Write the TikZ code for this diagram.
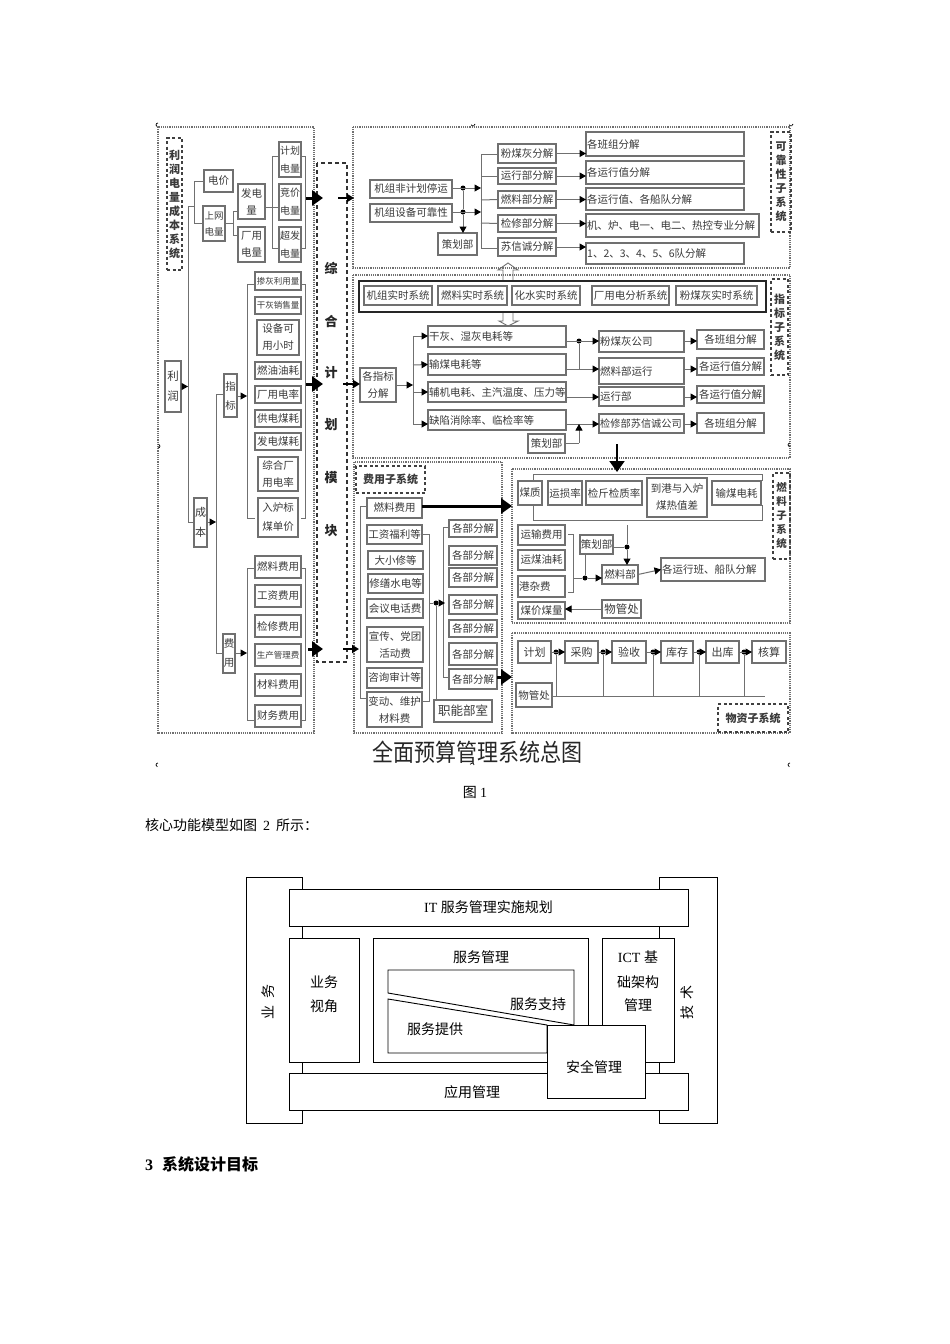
\documentclass[tikz,border=0pt]{standalone}
\usepackage{fontspec}
\setmainfont{Noto Sans CJK SC}
\newfontfamily\lat{Liberation Serif}
\usetikzlibrary{arrows.meta}
\definecolor{ln}{HTML}{707070}
\definecolor{tx}{HTML}{3a3a3a}
\newcommand\fz[2]{\fontsize{#1}{#2}\selectfont}
\tikzset{
 bxs/.style={draw=ln,line width=1.1pt,inner sep=0pt,outer sep=0pt,fill=white,text=tx,align=center,font=\fz{10.5}{17}},
 ltx/.style={text=tx,inner sep=1pt,anchor=west,font=\fz{10.5}{14}},
 lnn/.style={draw=ln,line width=1pt},
 sarr/.style={draw=ln,line width=1pt,-{Triangle[length=6.5pt,width=7pt,color=black]}},
 barr/.style={draw=black,line width=3pt,-{Triangle[length=11pt,width=15pt]}},
 marr/.style={draw=black,line width=1.8pt,-{Triangle[length=7pt,width=8pt]}},
 frame/.style={draw=ln,line width=1.2pt,densely dotted},
 dbox/.style={draw=black!75,line width=1.1pt,dash pattern=on 3pt off 2.5pt,inner sep=0pt,outer sep=0pt,align=center,text=tx,font=\fz{11}{14}\bfseries},
 dot/.style={circle,fill=black,inner sep=0pt,minimum size=5pt},
 bw/.style={draw=black,line width=.9pt,fill=white,inner sep=0pt,outer sep=0pt,align=center,text=black,font=\fz{14}{24}},
 free/.style={inner sep=0pt,text=black,font=\fz{14}{24}},
 mod/.style={inner sep=0pt,text=black!85,font=\fz{13}{18}\bfseries},
}
\newcommand\bx[7][]{\node[bxs,#1,minimum width={#5-#3},minimum height={#6-#4}] (#2) at ({(#3+#5)/2},{(#4+#6)/2}) {#7};}
\newcommand\bxl[7][]{\node[bxs,minimum width={#5-#3},minimum height={#6-#4}] (#2) at ({(#3+#5)/2},{(#4+#6)/2}) {};\node[ltx,#1] (#2t) at (#2.west) {#7};}
\newcommand\dbx[7][]{\node[dbox,#1,minimum width={#5-#3},minimum height={#6-#4}] (#2) at ({(#3+#5)/2},{(#4+#6)/2}) {#7};}
\newcommand\brk[5]{\coordinate (#1a) at (#2,#4);\coordinate (#1b) at (#3,#4);\coordinate (#1c) at (#3,#5);\coordinate (#1d) at (#2,#5);\draw[lnn] (#1a)--(#1b)--(#1c)--(#1d);}
\begin{document}
\begin{tikzpicture}[x=1pt,y=-1pt]
\useasboundingbox (0,0) rectangle (950,1344);
\fill[white] (0,0) rectangle (950,1344);
% ---------- frames
\draw[frame] (158,127) rectangle (314,733);
\draw[frame] (353,127) rectangle (790,268);
\draw[frame] (353,275) rectangle (790,458);
\draw[frame] (354,462) rectangle (502,733);
\draw[frame] (512,469) rectangle (790,623);
\draw[frame] (512,633) rectangle (790,733);
\draw[draw=black!80,line width=1.1pt,dash pattern=on 4pt off 3pt] (317,163) rectangle (347,662);
% handles
\foreach \hx/\hy/\ha in {158/125/90,473/124/200,791/124/200,158/446/-90,790/445/90,158/765/90,472/765/0,790/765/90}
 \draw[black,line width=.7pt] (\hx,\hy) ++(\ha:2pt) arc[start angle=\ha,delta angle=160,radius=2pt];
% ---------- left block
\dbx[font=\fz{11}{14}\bfseries]{tL}{167}{138}{182}{270}{利\\润\\电\\量\\成\\本\\系\\统}
\bx{dianjia}{204}{170}{233}{192}{电价}
\bx[font=\fz{9.5}{16}]{shangwang}{203}{206}{225}{241}{上网\\电量}
\bx{fadian}{238}{184}{265}{219}{发电\\量}
\bx{changyong}{238}{227}{265}{262}{厂用\\电量}
\bx[font=\fz{10}{18}]{jihua}{279}{142}{301}{177}{计划\\电量}
\bx[font=\fz{10}{18}]{jingjia}{279}{184}{301}{220}{竞价\\电量}
\bx[font=\fz{10}{18}]{chaofa}{279}{227}{301}{262}{超发\\电量}
\bx[font=\fz{11.5}{20}]{lirun}{165}{361}{181}{412}{利\\润}
\bx[font=\fz{11}{20}]{chengben}{194}{498}{207}{547}{成\\本}
\bx[font=\fz{10.5}{19}]{zhibiao}{224}{374}{237}{417}{指\\标}
\bx[font=\fz{10.5}{19}]{feiyong}{223}{634}{235}{673}{费\\用}
\bx[font=\fz{8.5}{11}]{a1}{255}{272}{301}{290}{掺灰利用量}
\bx[font=\fz{8.5}{11}]{a2}{255}{297}{301}{314}{干灰销售量}
\bx{a3}{257}{320}{299}{355}{设备可\\用小时}
\bx{a4}{255}{362}{301}{379}{燃油油耗}
\bx{a5}{255}{386}{301}{403}{厂用电率}
\bx{a6}{255}{410}{301}{427}{供电煤耗}
\bx{a7}{255}{433}{301}{450}{发电煤耗}
\bx{a8}{258}{457}{298}{491}{综合厂\\用电率}
\bx[font=\fz{10.5}{19}]{a9}{258}{498}{298}{537}{入炉标\\煤单价}
\bx{b1}{255}{556}{301}{578}{燃料费用}
\bx{b2}{255}{585}{301}{607}{工资费用}
\bx{b3}{255}{615}{301}{637}{检修费用}
\bx[font=\fz{8.5}{11}]{b4}{255}{644}{301}{666}{生产管理费}
\bx{b5}{255}{674}{301}{696}{材料费用}
\bx{b6}{255}{705}{301}{727}{财务费用}
% left connectors
\coordinate (mA) at (188,206);\coordinate (mB) at (188,522);\coordinate (mC) at (194,206);
\coordinate (nA) at (194,181);\coordinate (nB) at (194,223);
\draw[lnn] (chengben.west|-mB)--(mB)--(mA)--(mC);
\draw[lnn] (dianjia.west|-nA)--(nA)--(nB)--(shangwang.west|-nB);
\coordinate (oA) at (233,211);\coordinate (oB) at (233,235);
\draw[lnn] (shangwang.east|-nB)--(oA|-nB);
\draw[lnn] (fadian.west|-oA)--(oA)--(oB)--(changyong.west|-oB);
\brk{p}{279}{272}{156}{248}
\brk{q}{301}{305}{156}{248}
\coordinate (pM) at (272,207);
\draw[lnn] (fadian.east|-pM)--(pM);
\draw[lnn] (pM)--(jingjia.west|-pM);
\coordinate (mD) at (216,394);\coordinate (mE) at (216,653);
\draw[lnn] (zhibiao.west|-mD)--(mD)--(mE)--(feiyong.west|-mE);
\draw[sarr] (lirun.east)--(mA|-lirun.east);
\draw[sarr] (chengben.east|-mB)--(mE|-mB);
\coordinate (rA) at (247,396);\coordinate (rB) at (247,653);
\draw[sarr] (zhibiao.east|-rA)--(rA);
\draw[sarr] (feiyong.east|-rB)--(rB);
\brk{r}{255}{247}{284}{518}
\brk{s}{301}{305}{284}{518}
\brk{t}{255}{247}{568}{720}
\brk{u}{301}{305}{568}{720}
% module
\node[mod] (m1) at (331,268) {综};
\node[mod] (m2) at (331,322) {合};
\node[mod] (m3) at (331,373) {计};
\node[mod] (m4) at (331,425) {划};
\node[mod] (m5) at (331,478) {模};
\node[mod] (m6) at (331,531) {块};
\coordinate (c1) at (306,198);\coordinate (c2) at (323,198);\coordinate (c3) at (338,198);\coordinate (c4) at (354,198);
\coordinate (c5) at (306,384);\coordinate (c6) at (323,384);\coordinate (c7) at (343,384);
\coordinate (c9) at (308,649);\coordinate (c10) at (323,649);\coordinate (c11) at (343,649);\coordinate (c12) at (359,649);
\draw[barr] (c1)--(c2);\draw[marr] (c3)--(c4);
\draw[barr] (c5)--(c6);
\draw[barr] (c9)--(c10);\draw[marr] (c11)--(c12);
% ---------- reliability
\bx{k1}{370}{180}{452}{198}{机组非计划停运}
\bx{k2}{370}{204}{452}{222}{机组设备可靠性}
\bx{k3}{438}{233}{477}{255}{策划部}
\bx{e1}{498}{144}{556}{163}{粉煤灰分解}
\bx{e2}{498}{168}{556}{184}{运行部分解}
\bx{e3}{498}{191}{556}{208}{燃料部分解}
\bx{e4}{498}{215}{556}{232}{检修部分解}
\bx{e5}{498}{238}{556}{256}{苏信诚分解}
\bxl{f1}{586}{132}{744}{156}{各班组分解}
\bxl{f2}{586}{161}{744}{184}{各运行值分解}
\bxl{f3}{586}{188}{744}{210}{各运行值、各船队分解}
\bxl{f4}{586}{214}{759}{237}{机、炉、电一、电二、热控专业分解}
\bxl{f5}{586}{243}{744}{264}{1、2、3、4、5、6队分解}
\dbx{tR}{771}{132}{791}{232}{可\\靠\\性\\子\\系\\统}
\coordinate (vT) at (481,154);\coordinate (vB) at (481,248);
\coordinate (v2) at (481,176);\coordinate (v3) at (481,200);\coordinate (v4) at (481,223);
\draw[lnn] (e1.west|-vT)--(vT)--(vB)--(e5.west|-vB);
\draw[lnn] (v2)--(e2.west);\draw[lnn] (v3)--(e3.west);\draw[lnn] (v4)--(e4.west);
\node[dot] (j1) at (463,188) {};\node[dot] (j2) at (463,212) {};
\coordinate (v5) at (481,188);\coordinate (v6) at (481,212);
\draw[lnn] (j1)--(j2);
\draw[sarr] (k1.east|-j1)--(v5);
\draw[sarr] (k2.east|-j2)--(v6);
\draw[sarr] (j2)--(k3.north-|j2);
\draw[sarr] (e1.east)--(f1.west|-e1.east);
\draw[sarr] (e2.east)--(f2.west|-e2.east);
\draw[sarr] (e3.east)--(f3.west|-e3.east);
\draw[sarr] (e4.east)--(f4.west|-e4.east);
\draw[sarr] (e5.east)--(f5.west|-e5.east);
% hollow double arrow
\draw[lnn,line width=.9pt] (503,281)--(503,270)--(498,270)--(508,263)--(518,270)--(513,270)--(513,281);
\draw[lnn,line width=.9pt] (503,312)--(503,321)--(499,321)--(508,326)--(518,321)--(513,321)--(513,312);
% ---------- indicators
\node[draw=black!85,line width=2.6pt,minimum width=407pt,minimum height=31pt,inner sep=0pt] (thick) at (562.5,296.5) {};
\bx{g1}{364}{286}{432}{305}{机组实时系统}
\bx{g2}{438}{286}{507}{305}{燃料实时系统}
\bx{g3}{512}{286}{580}{305}{化水实时系统}
\bx{g4}{592}{286}{669}{305}{厂用电分析系统}
\bx{g5}{676}{286}{757}{305}{粉煤灰实时系统}
\dbx{tI}{771}{279}{788}{375}{指\\标\\子\\系\\统}
\bx{h0}{360}{368}{396}{402}{各指标\\分解}
\bxl{h1}{428}{326}{566}{347}{干灰、湿灰电耗等}
\bxl{h2}{428}{354}{566}{375}{输煤电耗等}
\bxl{h3}{428}{382}{566}{402}{辅机电耗、主汽温度、压力等}
\bxl{h4}{428}{410}{566}{430}{缺陷消除率、临检率等}
\bx{h5}{528}{434}{565}{453}{策划部}
\bxl{i1}{599}{331}{684}{352}{粉煤灰公司}
\bxl{i2}{599}{358}{684}{384}{燃料部运行}
\bxl{i3}{599}{387}{684}{406}{运行部}
\bxl[font=\fz{10.2}{13}]{i4}{599}{414}{684}{433}{检修部苏信诚公司}
\bx{l1}{697}{330}{764}{349}{各班组分解}
\bx{l2}{697}{358}{764}{375}{各运行值分解}
\bx{l3}{697}{386}{764}{403}{各运行值分解}
\bx{l4}{697}{413}{764}{433}{各班组分解}
\coordinate (wT) at (413,336);\coordinate (wB) at (413,424);\coordinate (wM) at (413,385);
\coordinate (w2) at (413,365);\coordinate (w3) at (413,392);
\draw[lnn] (wT)--(wB);
\draw[sarr] (h0.east|-wM)--(wM);
\draw[sarr] (wT)--(h1.west|-wT);
\draw[sarr] (w2)--(h2.west);
\draw[sarr] (w3)--(h3.west);
\draw[sarr] (wB)--(h4.west|-wB);
\node[dot] (j3) at (579,341) {};
\coordinate (j4) at (579,369);\coordinate (j5) at (579,424);\coordinate (j7b) at (579,397);
\draw[lnn] (j3)--(j4);
\draw[sarr] (h1.east|-j3)--(i1.west|-j3);
\draw[sarr] (h2.east|-j4)--(i2.west|-j4);
\draw[sarr] (h3.east|-j7b)--(i3.west|-j7b);
\draw[sarr] (h4.east|-j5)--(i4.west|-j5);
\coordinate (j6) at (579,443);
\draw[lnn] (h5.east|-j6)--(j6);
\draw[sarr] (j6)--(j5);
\draw[sarr] (i1.east|-j3)--(l1.west|-j3);
\draw[sarr] (i2.east|-j4)--(l2.west|-j4);
\draw[sarr] (i3.east|-j7b)--(l3.west|-j7b);
\draw[sarr] (i4.east|-j5)--(l4.west|-j5);
\coordinate (dn1) at (617,444);\coordinate (dn2) at (617,472);
\draw[barr,line width=2pt] (dn1)--(dn2);
\draw[marr] (c7)--(h0.west|-c7);
% ---------- cost system
\dbx{tC}{356}{466}{425}{493}{费用子系统}
\bx{n1}{367}{498}{422}{518}{燃料费用}
\bx{n2}{367}{525}{422}{544}{工资福利等}
\bx{n3}{368}{551}{423}{569}{大小修等}
\bx{n4}{368}{574}{423}{593}{修缮水电等}
\bx{n5}{367}{599}{423}{618}{会议电话费}
\bx{n6}{367}{627}{423}{662}{宣传、党团\\活动费}
\bx{n7}{367}{668}{422}{688}{咨询审计等}
\bx{n8}{367}{692}{422}{727}{变动、维护\\材料费}
\bx{o1}{449}{520}{497}{537}{各部分解}
\bx{o2}{449}{546}{497}{565}{各部分解}
\bx{o3}{449}{568}{497}{587}{各部分解}
\bx{o4}{449}{595}{497}{614}{各部分解}
\bx{o5}{449}{620}{497}{637}{各部分解}
\bx{o6}{449}{643}{497}{665}{各部分解}
\bx{o7}{449}{669}{497}{689}{各部分解}
\bx[font=\fz{12.5}{15}]{o8}{434}{700}{492}{722}{职能部室}
\brk{v}{367}{360}{506}{698}
\brk{w}{422}{429}{534}{701}
\brk{y}{449}{443}{527}{677}
\coordinate (x0) at (429,603);\node[dot] (j7) at (436,603) {};\coordinate (x1) at (445,603);
\draw[lnn] (x0)--(j7);
\draw[sarr] (j7)--(x1);
\draw[lnn] (j7)--(j7|-o8.north);
\coordinate (big1) at (512,506);
\draw[barr] (n1.east|-big1)--(big1);
\coordinate (big2) at (497,677);\coordinate (big3) at (512,677);
\draw[barr] (big2)--(big3);
% ---------- fuel
\bx{q1}{518}{481}{542}{505}{煤质}
\bx{q2}{548}{481}{582}{505}{运损率}
\bx{q3}{586}{481}{642}{505}{检斤检质率}
\bx{q4}{647}{478}{707}{517}{到港与入炉\\煤热值差}
\bx{q5}{712}{481}{761}{505}{输煤电耗}
\coordinate (z1) at (533,481);\coordinate (z2) at (533,474);\coordinate (z3) at (762,474);\coordinate (z4) at (762,481);
\coordinate (z5) at (533,505);\coordinate (z6) at (533,520);\coordinate (z7) at (762,520);\coordinate (z8) at (762,505);
\draw[lnn] (z1)--(z2)--(z3)--(z4);
\draw[lnn] (z5)--(z6)--(z7)--(z8);
\dbx[font=\fz{10.5}{14}\bfseries]{tF}{773}{473}{790}{559}{燃\\料\\子\\系\\统}
\bx{r1}{518}{525}{565}{545}{运输费用}
\bx{r2}{518}{550}{565}{570}{运煤油耗}
\bxl{r3}{518}{576}{565}{597}{港杂费}
\bx{r4}{580}{535}{613}{554}{策划部}
\bx{r5}{602}{565}{638}{584}{燃料部}
\bxl{r6}{661}{558}{765}{581}{各运行班、船队分解}
\bx[font=\fz{11.5}{14}]{r7}{602}{600}{641}{618}{物管处}
\bx{r8}{518}{602}{565}{619}{煤价煤量}
\brk{aa}{568}{573}{534}{592}
\node[dot] (j8) at (585,578) {};
\coordinate (ab) at (573,578);
\draw[lnn] (ab)--(j8);
\draw[sarr] (j8)--(r5.west|-j8);
\draw[lnn] (j8)--(j8|-r4.south);
\coordinate (ac) at (627,525);\node[dot] (j9) at (627,547) {};
\draw[lnn] (ac)--(j9);\draw[lnn] (r4.east|-j9)--(j9);
\draw[sarr] (j9)--(j9|-r5.north);
\draw[sarr] (r5.east)--(r6.west);
\draw[sarr] (r7.west)--(r8.east|-r7.west);
% ---------- material
\bx[font=\fz{11}{14}]{s1}{518}{641}{551}{663}{计划}
\bx[font=\fz{11}{14}]{s2}{565}{641}{598}{663}{采购}
\bx[font=\fz{11}{14}]{s3}{612}{641}{646}{663}{验收}
\bx[font=\fz{11}{14}]{s4}{661}{641}{693}{663}{库存}
\bx[font=\fz{11}{14}]{s5}{706}{641}{739}{663}{出库}
\bx[font=\fz{11}{14}]{s6}{752}{641}{786}{663}{核算}
\bx{s0}{516}{683}{552}{707}{物管处}
\dbx{tM}{718}{704}{788}{732}{物资子系统}
\foreach \a/\b/\c/\n in {s1/s2/556/1,s2/s3/603/2,s3/s4/653/3,s4/s5/699/4,s5/s6/744/5}{
 \node[dot] (jj\n) at (\c,652) {};
 \coordinate (jk\n) at (\c,696);
 \draw[sarr] (\a.east)--(\b.west);
 \draw[lnn] (jj\n)--(jk\n);
}
\coordinate (busE) at (765,696);
\draw[lnn] (s0.east|-busE)--(busE);
\node[transform shape,yscale=1.15,inner sep=0pt,text=black!85,font=\fz{21}{26}] (title) at (477,752) {全面预算管理系统总图};
% ---------- body text
\node[free] (cap1) at (475,792) {图 {\lat 1}};
\node[free,anchor=west] (para) at (145,825) {核心功能模型如图\hspace{6pt}{\lat 2}\hspace{6pt}所示：};
\node[free,anchor=west,font=\fz{16}{24}\bfseries] (sec) at (145,1164) {{\lat 3}\hspace{9pt}系统设计目标};
% ---------- figure 2
\node[bw,minimum width=56pt,minimum height=246pt] (biz) at (274,1000) {};
\node[bw,minimum width=58pt,minimum height=246pt] (tech) at (688,1000) {};
\node[inner sep=0pt,text=black,rotate=90,font=\fz{14}{16}] (bizt) at (268,1002) {业\hspace{7pt}务};
\node[inner sep=0pt,text=black,rotate=90,font=\fz{14}{16}] (techt) at (687,1002) {技\hspace{6pt}术};
\node[bw,minimum width=399pt,minimum height=37pt] (plan) at (488.5,907.5) {{\lat IT }服务管理实施规划};
\node[bw,minimum width=70pt,minimum height=124pt] (view) at (324,1000) {};
\node[free] (viewa) at (324,982) {业务};
\node[free] (viewb) at (324,1006) {视角};
\node[bw,minimum width=215pt,minimum height=124pt] (svc) at (480.5,1000) {};
\node[free] (svct) at (481,957) {服务管理};
\node[bw,minimum width=72pt,minimum height=124pt] (ict) at (638,1000) {};
\node[free] (icta) at (638,957) {{\lat ICT }基};
\node[free] (ictb) at (638,982) {础架构};
\node[free] (ictc) at (638,1005) {管理};
\node[bw,minimum width=399pt,minimum height=37pt] (app) at (488.5,1091.5) {};
\node[free] (appt) at (472,1092) {应用管理};
\draw[draw=black,line width=.9pt] (388,993)--(388,970)--(574,970)--(574,1025)--cycle;
\draw[draw=black,line width=.9pt] (388,999)--(547,1025)--(547,1053)--(388,1053)--cycle;
\node[free] (supp) at (538,1004) {服务支持};
\node[free] (prov) at (435,1029) {服务提供};
\node[bw,minimum width=98pt,minimum height=73pt] (sec2) at (596,1061.5) {};
\node[free] (sec2t) at (594,1067) {安全管理};
\end{tikzpicture}
\end{document}
